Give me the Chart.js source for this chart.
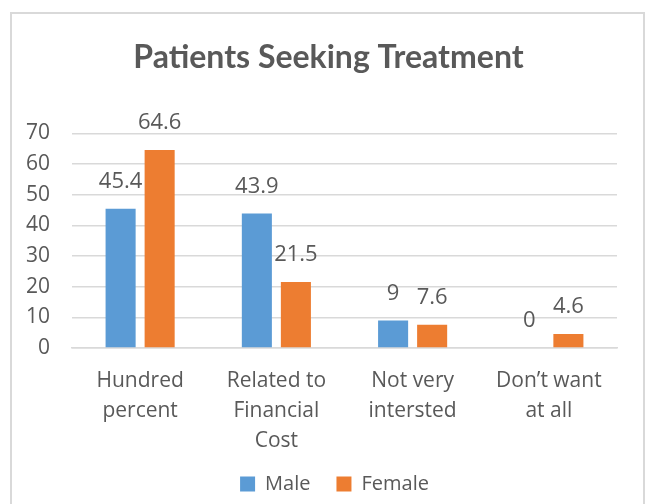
<!DOCTYPE html>
<html>
<head>
<meta charset="utf-8">
<script src="https://cdn.jsdelivr.net/npm/chart.js@4/dist/chart.umd.min.js"></script>
<style>
  body { margin: 0; background: #fff; }
  #frame { position: absolute; left: 10px; top: 12px; width: 631px; height: 510px; border: 2px solid #d9d9d9; }
  #chart { position: absolute; left: 0; top: 0; }
</style>
</head>
<body>
<div id="frame"></div>
<canvas id="chart" width="647" height="504"></canvas>
<script>
// valeurs
const categories = [
    ['Hundred', 'percent'],
    ['Related to', 'Financial', 'Cost'],
    ['Not very', 'intersted'],
    ['Don\u2019t want', 'at all']
];
const maleValues = [45.4, 43.9, 9, 0];
const femaleValues = [64.6, 21.5, 7.6, 4.6];
const yTicks = [0, 10, 20, 30, 40, 50, 60, 70];

const textColor = '#595959';
const baseFont = 'Open Sans';

// étiquettes de valeur au-dessus des barres
const valueLabels = {
    id: 'valueLabels',
    afterDatasetsDraw(chart) {
        const ctx = chart.ctx;
        ctx.save();
        ctx.font = '22px "' + baseFont + '"';
        ctx.fillStyle = textColor;
        ctx.textAlign = 'center';
        ctx.textBaseline = 'bottom';
        chart.data.datasets.forEach((ds, i) => {
            const meta = chart.getDatasetMeta(i);
            meta.data.forEach((bar, j) => {
                ctx.fillText(String(ds.data[j]), bar.x, bar.y - 16);
            });
        });
        ctx.restore();
    }
};

// titre et légende un peu décalés vers la droite (comme dans Excel)
const shiftBoxes = {
    id: 'shiftBoxes',
    afterLayout(chart) {
        if (chart.titleBlock) {
            chart.titleBlock.left += 14;
            chart.titleBlock.right += 14;
        }
        if (chart.legend) {
            chart.legend.left += 20;
            chart.legend.right += 20;
        }
    }
};

const data = {
    labels: categories,
    datasets: [
        {
            label: 'Male',
            data: maleValues,
            backgroundColor: '#5B9BD5',
            categoryPercentage: 0.573,
            barPercentage: 0.77
        },
        {
            label: 'Female',
            data: femaleValues,
            backgroundColor: '#ED7D31',
            categoryPercentage: 0.573,
            barPercentage: 0.77
        }
    ]
};

const config = {
    type: 'bar',
    data: data,
    options: {
        responsive: false,
        animation: false,
        layout: { padding: { left: 12, right: 30, top: 0, bottom: 0 } },
        plugins: {
            title: {
                display: true,
                text: 'Patients Seeking Treatment',
                color: textColor,
                font: { family: 'Lato', size: 32, weight: 'bold' },
                padding: { top: 38, bottom: 57 }
            },
            legend: {
                position: 'bottom',
                labels: {
                    color: textColor,
                    font: { family: baseFont, size: 20 },
                    boxWidth: 15,
                    boxHeight: 15,
                    padding: 26
                }
            },
            tooltip: { enabled: false }
        },
        scales: {
            x: {
                grid: { display: false, tickLength: 0 },
                border: { color: '#d9d9d9', width: 1.5 },
                ticks: {
                    color: textColor,
                    font: { family: baseFont, size: 21, lineHeight: 1.43 },
                    padding: 18,
                    maxRotation: 0
                },
                afterFit: (scale) => { scale.height = 100; }
            },
            y: {
                min: 0,
                max: 70,
                afterBuildTicks: (scale) => { scale.ticks = yTicks.map(v => ({ value: v })); },
                grid: { color: '#d9d9d9', lineWidth: 1.5, drawTicks: false },
                border: { display: false },
                ticks: {
                    color: textColor,
                    font: { family: baseFont, size: 21 },
                    padding: 22
                },
                afterFit: (scale) => { scale.width = 60; }
            }
        }
    },
    plugins: [valueLabels, shiftBoxes]
};

new Chart(document.getElementById('chart'), config);
</script>
</body>
</html>
